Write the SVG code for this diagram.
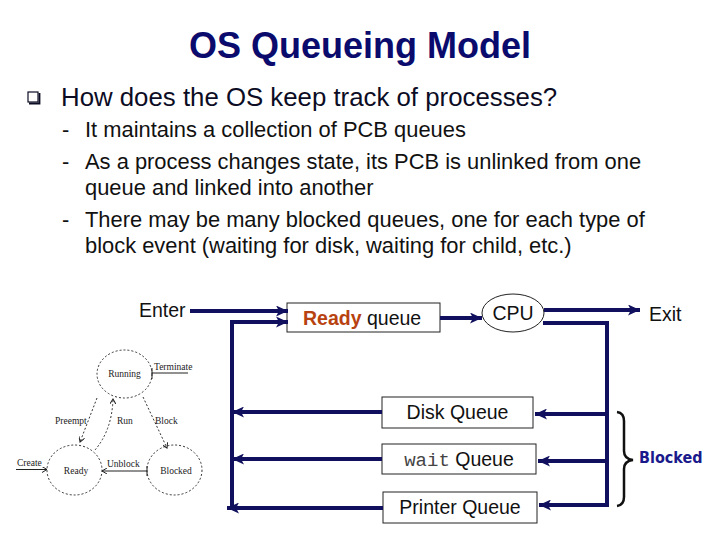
<svg xmlns="http://www.w3.org/2000/svg" width="720" height="540" viewBox="0 0 720 540">
<defs>
<style>
.title{font-family:"Liberation Sans",Arial,sans-serif;font-weight:bold;font-size:36px;fill:#0b0b6e}
.b1{font-family:"Liberation Sans",Arial,sans-serif;font-size:25.8px;fill:#0c0c24}
.b2{font-family:"Liberation Sans",Arial,sans-serif;font-size:21.9px;fill:#111}
.lbl{font-family:"Liberation Sans",Arial,sans-serif;font-size:19.5px;fill:#111}
.mono{font-family:"Liberation Mono","Courier New",monospace;font-size:19px;fill:#444}
.box{fill:#fff;stroke:#222;stroke-width:1}
.conn{fill:none;stroke:#10105e;stroke-width:4}
.sm{font-family:"Liberation Serif","Times New Roman",serif;font-size:9.5px;fill:#222}
.dash{fill:none;stroke:#333;stroke-width:1;stroke-dasharray:2 2}
.thin{fill:none;stroke:#222;stroke-width:1}
</style>
<marker id="ah" markerUnits="userSpaceOnUse" markerWidth="13" markerHeight="11" refX="12" refY="5.5" orient="auto">
<path d="M0,0 L12,5.5 L0,11 L3,5.5 z" fill="#10105e"/>
</marker>
<marker id="sa" markerUnits="userSpaceOnUse" markerWidth="6" markerHeight="6" refX="5" refY="3" orient="auto">
<path d="M0,0 L5,3 L0,6" fill="none" stroke="#222" stroke-width="1"/>
</marker>
</defs>
<rect width="720" height="540" fill="#fff"/>

<g id="title"><text class="title" x="360" y="58" text-anchor="middle">OS Queueing Model</text></g>

<g id="bullets">
<rect x="28" y="92" width="10" height="10" fill="none" stroke="#0c0c24" stroke-width="1.2"/>
<path d="M29,103.5 H39.5 V93" fill="none" stroke="#0c0c24" stroke-width="1.8"/>
<text class="b1" x="61" y="106">How does the OS keep track of processes?</text>
<text class="b2" x="62" y="137">-</text>
<text class="b2" x="85" y="137">It maintains a collection of PCB queues</text>
<text class="b2" x="62" y="169">-</text>
<text class="b2" x="85" y="169">As a process changes state, its PCB is unlinked from one</text>
<text class="b2" x="85" y="195">queue and linked into another</text>
<text class="b2" x="62" y="227">-</text>
<text class="b2" x="85" y="227">There may be many blocked queues, one for each type of</text>
<text class="b2" x="85" y="253">block event (waiting for disk, waiting for child, etc.)</text>
</g>

<g id="state-diagram">
<ellipse class="dash" cx="124.5" cy="374" rx="27.5" ry="24"/>
<ellipse class="dash" cx="74.5" cy="470" rx="27.5" ry="25"/>
<ellipse class="dash" cx="174.5" cy="470" rx="27.5" ry="25"/>
<text class="sm" x="124.5" y="377" text-anchor="middle">Running</text>
<text class="sm" x="76" y="474" text-anchor="middle">Ready</text>
<text class="sm" x="176" y="474" text-anchor="middle">Blocked</text>
<path class="thin" d="M152,373 H188 M152,368 V379"/>
<text class="sm" x="154" y="370">Terminate</text>
<path class="thin" d="M16,469.5 H47" marker-end="url(#sa)"/>
<text class="sm" x="17" y="466">Create</text>
<path class="thin" d="M147,471 H102" marker-end="url(#sa)"/>
<path class="thin" d="M147,466 V476"/>
<text class="sm" x="107" y="467">Unblock</text>
<path class="dash" d="M97,398 L80,442" marker-end="url(#sa)"/>
<path class="dash" d="M95,450 Q112,430 113,399" marker-end="url(#sa)"/>
<path class="dash" d="M143,397 L167,448" marker-end="url(#sa)"/>
<text class="sm" x="55" y="424">Preempt</text>
<text class="sm" x="117" y="424">Run</text>
<text class="sm" x="155" y="424">Block</text>
</g>

<g id="enter"><text class="lbl" x="139" y="317">Enter</text></g>
<g id="ready-queue">
<rect class="box" x="287" y="303" width="153" height="29"/>
<text class="lbl" x="303" y="325"><tspan font-weight="bold" fill="#b8420f">Ready</tspan> queue</text>
</g>
<g id="cpu">
<ellipse cx="513" cy="313" rx="31" ry="19" fill="#fff" stroke="#222" stroke-width="1"/>
<text class="lbl" x="513" y="320" text-anchor="middle">CPU</text>
</g>
<g id="exit"><text class="lbl" x="649" y="321">Exit</text></g>
<g id="disk-queue">
<rect class="box" x="382" y="397" width="151" height="31"/>
<text class="lbl" x="457.5" y="419" text-anchor="middle">Disk Queue</text>
</g>
<g id="wait-queue">
<rect class="box" x="382" y="444" width="154" height="30"/>
<text x="459" y="466" text-anchor="middle"><tspan class="mono">wait</tspan><tspan class="lbl"> Queue</tspan></text>
</g>
<g id="printer-queue">
<rect class="box" x="383" y="492" width="154" height="31"/>
<text class="lbl" x="460" y="514" text-anchor="middle">Printer Queue</text>
</g>
<g id="blocked-label">
<path d="M617,412 Q624,413 624,421 V451 Q624,459 633,460 Q624,461 624,469 V497 Q624,505 617,506" fill="none" stroke="#111" stroke-width="2.5"/>
<text x="639" y="463" font-family="'DejaVu Sans Condensed','DejaVu Sans',sans-serif" font-stretch="condensed" font-weight="bold" font-size="16" fill="#1a1a8c">Blocked</text>
</g>

<g id="connectors">
<path class="conn" d="M190,311 H288" marker-end="url(#ah)"/>
<path class="conn" d="M232,510 V322 H288" marker-end="url(#ah)"/>
<path class="conn" d="M440,318 H482" marker-end="url(#ah)"/>
<path class="conn" d="M544,310 H640" marker-end="url(#ah)"/>
<path class="conn" d="M543,323 H607 V506"/>
<path class="conn" d="M607,414 H535" marker-end="url(#ah)"/>
<path class="conn" d="M607,461 H538" marker-end="url(#ah)"/>
<path class="conn" d="M609,505 H539" marker-end="url(#ah)"/>
<path class="conn" d="M382,412 H232" marker-end="url(#ah)"/>
<path class="conn" d="M382,459 H232" marker-end="url(#ah)"/>
<path class="conn" d="M383,508 H227" marker-end="url(#ah)"/>
</g>
</svg>
